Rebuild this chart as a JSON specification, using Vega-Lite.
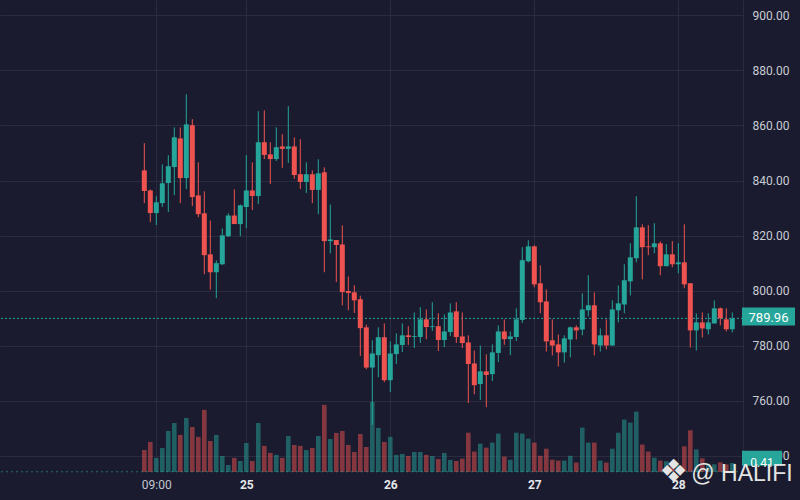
{
  "$schema": "https://vega.github.io/schema/vega-lite/v6.json",
  "width": 743,
  "height": 472,
  "autosize": {"type": "none"},
  "padding": {"left": 0, "top": 0, "right": 57, "bottom": 28},
  "background": "#1a1b2e",
  "config": {"view": {"stroke": null}, "font": "Roboto"},
  "data": {"values": [
    {"t":"2024-12-24T07:00Z","o":843.7,"h":853.6,"l":831.8,"c":836.2,"v":1.00},
    {"t":"2024-12-24T08:00Z","o":836.4,"h":836.8,"l":824.9,"c":828.2,"v":1.37},
    {"t":"2024-12-24T09:00Z","o":828.2,"h":834.3,"l":823.8,"c":832.1,"v":0.64},
    {"t":"2024-12-24T10:00Z","o":831.8,"h":845.9,"l":830.4,"c":839.0,"v":1.09},
    {"t":"2024-12-24T11:00Z","o":839.1,"h":849.2,"l":828.6,"c":845.2,"v":1.87},
    {"t":"2024-12-24T12:00Z","o":844.9,"h":859.3,"l":834.7,"c":855.7,"v":2.23},
    {"t":"2024-12-24T13:00Z","o":855.3,"h":859.3,"l":831.8,"c":840.9,"v":1.69},
    {"t":"2024-12-24T14:00Z","o":840.9,"h":871.3,"l":836.9,"c":860.4,"v":2.46},
    {"t":"2024-12-24T15:00Z","o":860.1,"h":862.3,"l":830.7,"c":834.0,"v":2.05},
    {"t":"2024-12-24T16:00Z","o":834.6,"h":846.6,"l":826.7,"c":827.8,"v":1.60},
    {"t":"2024-12-24T17:00Z","o":828.1,"h":836.1,"l":806.0,"c":812.9,"v":2.83},
    {"t":"2024-12-24T18:00Z","o":813.2,"h":825.5,"l":800.4,"c":806.7,"v":1.41},
    {"t":"2024-12-24T19:00Z","o":806.7,"h":811.0,"l":797.3,"c":810.0,"v":1.69},
    {"t":"2024-12-24T20:00Z","o":809.6,"h":822.6,"l":809.3,"c":820.1,"v":0.73},
    {"t":"2024-12-24T21:00Z","o":819.8,"h":828.1,"l":819.5,"c":827.3,"v":0.32},
    {"t":"2024-12-24T22:00Z","o":827.3,"h":836.8,"l":824.2,"c":824.2,"v":0.64},
    {"t":"2024-12-24T23:00Z","o":824.2,"h":831.3,"l":819.8,"c":831.0,"v":0.50},
    {"t":"2024-12-25T00:00Z","o":830.4,"h":849.2,"l":822.7,"c":836.4,"v":1.32},
    {"t":"2024-12-25T01:00Z","o":836.4,"h":846.6,"l":829.3,"c":834.4,"v":0.50},
    {"t":"2024-12-25T02:00Z","o":834.4,"h":865.2,"l":831.5,"c":853.9,"v":2.23},
    {"t":"2024-12-25T03:00Z","o":853.9,"h":865.5,"l":847.8,"c":849.3,"v":1.19},
    {"t":"2024-12-25T04:00Z","o":849.5,"h":853.9,"l":838.7,"c":847.8,"v":0.87},
    {"t":"2024-12-25T05:00Z","o":847.8,"h":859.3,"l":847.1,"c":852.1,"v":0.78},
    {"t":"2024-12-25T06:00Z","o":852.4,"h":856.8,"l":844.6,"c":851.5,"v":0.64},
    {"t":"2024-12-25T07:00Z","o":851.5,"h":867.0,"l":846.4,"c":852.4,"v":1.64},
    {"t":"2024-12-25T08:00Z","o":852.4,"h":855.7,"l":840.6,"c":842.0,"v":1.23},
    {"t":"2024-12-25T09:00Z","o":842.3,"h":855.0,"l":836.9,"c":839.5,"v":1.19},
    {"t":"2024-12-25T10:00Z","o":839.5,"h":846.6,"l":835.5,"c":842.3,"v":1.00},
    {"t":"2024-12-25T11:00Z","o":842.3,"h":843.7,"l":831.8,"c":836.6,"v":1.09},
    {"t":"2024-12-25T12:00Z","o":836.6,"h":847.7,"l":827.8,"c":842.6,"v":1.64},
    {"t":"2024-12-25T13:00Z","o":843.0,"h":844.8,"l":806.7,"c":818.0,"v":3.06},
    {"t":"2024-12-25T14:00Z","o":818.0,"h":831.3,"l":813.6,"c":818.6,"v":1.50},
    {"t":"2024-12-25T15:00Z","o":818.4,"h":818.4,"l":803.1,"c":816.6,"v":1.78},
    {"t":"2024-12-25T16:00Z","o":816.8,"h":823.7,"l":794.7,"c":799.5,"v":1.87},
    {"t":"2024-12-25T17:00Z","o":799.9,"h":805.2,"l":792.9,"c":799.2,"v":1.23},
    {"t":"2024-12-25T18:00Z","o":799.4,"h":802.0,"l":791.9,"c":796.5,"v":0.91},
    {"t":"2024-12-25T19:00Z","o":796.9,"h":798.2,"l":776.3,"c":786.4,"v":1.73},
    {"t":"2024-12-25T20:00Z","o":786.7,"h":787.7,"l":771.5,"c":772.1,"v":1.14},
    {"t":"2024-12-25T21:00Z","o":772.1,"h":782.0,"l":751.3,"c":777.2,"v":3.19},
    {"t":"2024-12-25T22:00Z","o":776.6,"h":786.7,"l":768.6,"c":783.1,"v":2.01},
    {"t":"2024-12-25T23:00Z","o":783.1,"h":788.1,"l":766.8,"c":767.5,"v":1.37},
    {"t":"2024-12-26T00:00Z","o":767.5,"h":781.6,"l":763.2,"c":777.2,"v":1.60},
    {"t":"2024-12-26T01:00Z","o":777.0,"h":784.5,"l":773.4,"c":780.5,"v":0.78},
    {"t":"2024-12-26T02:00Z","o":780.3,"h":788.1,"l":777.7,"c":783.8,"v":0.82},
    {"t":"2024-12-26T03:00Z","o":783.8,"h":787.1,"l":780.3,"c":783.2,"v":0.73},
    {"t":"2024-12-26T04:00Z","o":783.2,"h":792.1,"l":779.2,"c":783.5,"v":0.91},
    {"t":"2024-12-26T05:00Z","o":783.2,"h":794.0,"l":781.0,"c":789.6,"v":0.91},
    {"t":"2024-12-26T06:00Z","o":789.6,"h":793.2,"l":782.4,"c":786.8,"v":0.78},
    {"t":"2024-12-26T07:00Z","o":786.8,"h":795.8,"l":785.4,"c":787.1,"v":0.73},
    {"t":"2024-12-26T08:00Z","o":787.1,"h":791.8,"l":778.1,"c":782.1,"v":0.59},
    {"t":"2024-12-26T09:00Z","o":782.1,"h":791.4,"l":779.5,"c":785.2,"v":0.87},
    {"t":"2024-12-26T10:00Z","o":785.0,"h":795.4,"l":783.5,"c":792.1,"v":0.55},
    {"t":"2024-12-26T11:00Z","o":792.5,"h":795.8,"l":781.0,"c":783.2,"v":0.50},
    {"t":"2024-12-26T12:00Z","o":783.4,"h":792.1,"l":779.2,"c":781.0,"v":0.61},
    {"t":"2024-12-26T13:00Z","o":781.2,"h":783.8,"l":759.2,"c":773.4,"v":1.79},
    {"t":"2024-12-26T14:00Z","o":773.6,"h":778.3,"l":762.4,"c":765.7,"v":0.93},
    {"t":"2024-12-26T15:00Z","o":766.1,"h":780.1,"l":760.3,"c":770.7,"v":1.29},
    {"t":"2024-12-26T16:00Z","o":770.7,"h":776.9,"l":757.7,"c":769.4,"v":1.11},
    {"t":"2024-12-26T17:00Z","o":769.7,"h":780.5,"l":767.2,"c":777.6,"v":1.34},
    {"t":"2024-12-26T18:00Z","o":777.4,"h":787.4,"l":774.1,"c":785.2,"v":1.75},
    {"t":"2024-12-26T19:00Z","o":785.2,"h":789.6,"l":780.3,"c":782.4,"v":0.70},
    {"t":"2024-12-26T20:00Z","o":782.4,"h":785.2,"l":776.6,"c":783.4,"v":0.56},
    {"t":"2024-12-26T21:00Z","o":783.2,"h":793.6,"l":781.7,"c":789.6,"v":1.79},
    {"t":"2024-12-26T22:00Z","o":789.4,"h":815.8,"l":788.3,"c":811.1,"v":1.75},
    {"t":"2024-12-26T23:00Z","o":810.7,"h":818.3,"l":810.3,"c":816.1,"v":1.52},
    {"t":"2024-12-27T00:00Z","o":816.1,"h":816.5,"l":801.2,"c":802.3,"v":1.34},
    {"t":"2024-12-27T01:00Z","o":802.7,"h":809.2,"l":791.8,"c":795.8,"v":0.74},
    {"t":"2024-12-27T02:00Z","o":796.1,"h":800.5,"l":777.9,"c":781.6,"v":1.06},
    {"t":"2024-12-27T03:00Z","o":782.0,"h":789.6,"l":776.5,"c":780.1,"v":0.56},
    {"t":"2024-12-27T04:00Z","o":780.5,"h":784.1,"l":772.5,"c":777.6,"v":0.52},
    {"t":"2024-12-27T05:00Z","o":777.6,"h":783.8,"l":773.9,"c":782.7,"v":0.52},
    {"t":"2024-12-27T06:00Z","o":782.3,"h":787.0,"l":775.8,"c":786.7,"v":0.74},
    {"t":"2024-12-27T07:00Z","o":786.7,"h":787.4,"l":782.3,"c":785.6,"v":0.43},
    {"t":"2024-12-27T08:00Z","o":785.9,"h":799.0,"l":783.8,"c":793.2,"v":2.02},
    {"t":"2024-12-27T09:00Z","o":792.9,"h":805.6,"l":790.7,"c":794.7,"v":1.34},
    {"t":"2024-12-27T10:00Z","o":794.7,"h":799.4,"l":776.5,"c":780.5,"v":1.34},
    {"t":"2024-12-27T11:00Z","o":780.1,"h":786.3,"l":777.9,"c":783.8,"v":0.52},
    {"t":"2024-12-27T12:00Z","o":783.8,"h":789.6,"l":778.7,"c":780.1,"v":0.43},
    {"t":"2024-12-27T13:00Z","o":780.1,"h":796.5,"l":780.1,"c":793.2,"v":1.06},
    {"t":"2024-12-27T14:00Z","o":792.9,"h":801.9,"l":788.5,"c":795.4,"v":1.79},
    {"t":"2024-12-27T15:00Z","o":795.0,"h":809.6,"l":791.8,"c":803.8,"v":2.39},
    {"t":"2024-12-27T16:00Z","o":803.4,"h":817.2,"l":798.3,"c":812.1,"v":2.25},
    {"t":"2024-12-27T17:00Z","o":811.8,"h":834.3,"l":810.3,"c":823.0,"v":2.75},
    {"t":"2024-12-27T18:00Z","o":823.0,"h":824.1,"l":804.1,"c":815.8,"v":1.25},
    {"t":"2024-12-27T19:00Z","o":816.1,"h":823.8,"l":812.9,"c":815.8,"v":0.93},
    {"t":"2024-12-27T20:00Z","o":815.8,"h":824.5,"l":813.6,"c":817.2,"v":0.65},
    {"t":"2024-12-27T21:00Z","o":817.2,"h":817.9,"l":805.6,"c":808.9,"v":0.52},
    {"t":"2024-12-27T22:00Z","o":808.9,"h":816.9,"l":808.9,"c":813.2,"v":0.49},
    {"t":"2024-12-27T23:00Z","o":813.2,"h":818.0,"l":808.5,"c":809.6,"v":0.38},
    {"t":"2024-12-28T00:00Z","o":809.6,"h":817.2,"l":806.3,"c":810.3,"v":0.30},
    {"t":"2024-12-28T01:00Z","o":810.3,"h":824.1,"l":800.9,"c":802.3,"v":1.17},
    {"t":"2024-12-28T02:00Z","o":802.7,"h":802.7,"l":779.4,"c":785.6,"v":1.90},
    {"t":"2024-12-28T03:00Z","o":785.6,"h":791.8,"l":778.3,"c":788.5,"v":1.03},
    {"t":"2024-12-28T04:00Z","o":788.5,"h":792.1,"l":783.0,"c":786.3,"v":0.62},
    {"t":"2024-12-28T05:00Z","o":786.0,"h":791.8,"l":784.1,"c":788.5,"v":0.38},
    {"t":"2024-12-28T06:00Z","o":788.1,"h":796.5,"l":788.1,"c":793.6,"v":0.35},
    {"t":"2024-12-28T07:00Z","o":793.6,"h":793.9,"l":787.4,"c":790.0,"v":0.44},
    {"t":"2024-12-28T08:00Z","o":789.6,"h":793.6,"l":785.2,"c":786.0,"v":0.35},
    {"t":"2024-12-28T09:00Z","o":786.0,"h":792.1,"l":784.9,"c":789.96,"v":0.41}
  ]},
  "datasets": {
    "priceTag": [{"t": "2024-12-28T10:37Z", "t2": "2024-12-28T19:27Z", "tm": "2024-12-28T15:02Z", "p": 789.96, "label": "789.96"}],
    "volTag": [{"t": "2024-12-28T10:37Z", "t2": "2024-12-28T17:17Z", "tm": "2024-12-28T13:57Z", "v": 0.41, "label": "0.41"}],
    "mark": [{"t": "2024-12-27T23:12Z", "p": 734.2, "label": "❖"}],
    "wm": [{"t": "2024-12-28T10:37Z", "p": 733.4, "label": "@ HALIFI"}]
  },
  "encoding": {
    "x": {
      "field": "t",
      "type": "temporal",
      "title": null,
      "scale": {
        "type": "utc",
        "padding": 0,
        "domain": [
          {"year": 2024, "month": 12, "date": 23, "hours": 6, "minutes": 57, "utc": true},
          {"year": 2024, "month": 12, "date": 28, "hours": 10, "minutes": 47, "utc": true}
        ]
      },
      "axis": {
        "values": [
          {"year": 2024, "month": 12, "date": 24, "hours": 9, "utc": true},
          {"year": 2024, "month": 12, "date": 25, "hours": 0, "utc": true},
          {"year": 2024, "month": 12, "date": 26, "hours": 0, "utc": true},
          {"year": 2024, "month": 12, "date": 27, "hours": 0, "utc": true},
          {"year": 2024, "month": 12, "date": 28, "hours": 0, "utc": true}
        ],
        "labelExpr": "utchours(datum.value) == 0 ? utcFormat(datum.value, '%-d') : utcFormat(datum.value, '%H:%M')",
        "labelFontWeight": {"condition": {"test": "utchours(datum.value) == 0", "value": "bold"}, "value": "normal"},
        "labelColor": {"condition": {"test": "utchours(datum.value) == 0", "value": "#e6e7ec"}, "value": "#c3c6ce"},
        "labelFontSize": 12,
        "labelPadding": 7,
        "ticks": false,
        "tickSize": 0,
        "domain": false,
        "grid": true,
        "gridColor": "#2a2b3e",
        "gridWidth": 1,
        "labelFlush": false,
        "labelOverlap": false
      }
    }
  },
  "resolve": {"scale": {"y": "independent"}},
  "layer": [
    {
      "mark": {"type": "bar", "width": 4.6, "opacity": 0.5},
      "encoding": {
        "y": {"field": "v", "type": "quantitative", "scale": {"domain": [0, 21.5], "nice": false, "zero": true}, "axis": null},
        "color": {"condition": {"test": "datum.c >= datum.o", "value": "#26a69a"}, "value": "#ef5350"}
      }
    },
    {
      "data": {"values": [{}]},
      "mark": {"type": "rule", "strokeDash": [2, 3], "color": "#26a69a", "opacity": 0.6, "strokeWidth": 1},
      "encoding": {
        "x": null,
        "y": {"datum": 0.01, "type": "quantitative", "scale": {"domain": [0, 21.5], "nice": false}, "axis": null}
      }
    },
    {
      "data": {"values": [{}]},
      "mark": {"type": "rule", "strokeDash": [2, 2], "color": "#26a69a", "strokeWidth": 1},
      "encoding": {
        "x": null,
        "y": {"datum": 789.96, "type": "quantitative", "scale": {"domain": [734.17, 905.56], "nice": false, "zero": false}, "axis": null}
      }
    },
    {
      "mark": {"type": "rule", "strokeWidth": 1},
      "encoding": {
        "y": {"field": "h", "type": "quantitative", "scale": {"domain": [734.17, 905.56], "nice": false, "zero": false}, "axis": null},
        "y2": {"field": "l"},
        "color": {"condition": {"test": "datum.c >= datum.o", "value": "#26a69a"}, "value": "#ef5350"}
      }
    },
    {
      "mark": {"type": "bar", "width": 5},
      "encoding": {
        "y": {
          "field": "o",
          "type": "quantitative",
          "title": null,
          "scale": {"domain": [734.17, 905.56], "nice": false, "zero": false},
          "axis": {
            "orient": "right",
            "values": [740, 760, 780, 800, 820, 840, 860, 880, 900],
            "format": ".2f",
            "labelColor": "#c9ccd4",
            "labelFontSize": 12,
            "labelPadding": 9,
            "ticks": false,
            "tickSize": 0,
            "domain": true,
            "domainColor": "#2a2b3e",
            "grid": true,
            "gridColor": "#2a2b3e",
            "labelFlush": false,
            "labelOverlap": false
          }
        },
        "y2": {"field": "c"},
        "color": {"condition": {"test": "datum.c >= datum.o", "value": "#26a69a"}, "value": "#ef5350"}
      }
    },
    {
      "data": {"name": "priceTag"},
      "mark": {"type": "bar", "height": 18, "color": "#26a69a", "clip": false},
      "encoding": {
        "x2": {"field": "t2"},
        "y": {"field": "p", "type": "quantitative", "scale": {"domain": [734.17, 905.56], "nice": false, "zero": false}, "axis": null}
      }
    },
    {
      "data": {"name": "priceTag"},
      "mark": {"type": "text", "color": "#ffffff", "fontSize": 13, "align": "center", "baseline": "middle", "clip": false},
      "encoding": {
        "x": {"field": "tm", "type": "temporal"},
        "y": {"field": "p", "type": "quantitative", "scale": {"domain": [734.17, 905.56], "nice": false, "zero": false}, "axis": null},
        "text": {"field": "label"}
      }
    },
    {
      "data": {"name": "volTag"},
      "mark": {"type": "bar", "height": 15, "color": "#26a69a", "clip": false},
      "encoding": {
        "x2": {"field": "t2"},
        "y": {"field": "v", "type": "quantitative", "scale": {"domain": [0, 21.5], "nice": false}, "axis": null}
      }
    },
    {
      "data": {"name": "volTag"},
      "mark": {"type": "text", "color": "#ffffff", "fontSize": 12, "align": "center", "baseline": "middle", "clip": false},
      "encoding": {
        "x": {"field": "tm", "type": "temporal"},
        "y": {"field": "v", "type": "quantitative", "scale": {"domain": [0, 21.5], "nice": false}, "axis": null},
        "text": {"field": "label"}
      }
    },
    {
      "data": {"name": "mark"},
      "mark": {"type": "text", "font": "DejaVu Sans", "color": "#e4e4e4", "fontSize": 32, "align": "center", "baseline": "middle", "clip": false},
      "encoding": {
        "y": {"field": "p", "type": "quantitative", "scale": {"domain": [734.17, 905.56], "nice": false, "zero": false}, "axis": null},
        "text": {"field": "label"}
      }
    },
    {
      "data": {"name": "wm"},
      "mark": {"type": "text", "font": "Liberation Sans", "color": "#e4e4e4", "fontSize": 23, "align": "center", "baseline": "middle", "clip": false},
      "encoding": {
        "y": {"field": "p", "type": "quantitative", "scale": {"domain": [734.17, 905.56], "nice": false, "zero": false}, "axis": null},
        "text": {"field": "label"}
      }
    }
  ]
}
